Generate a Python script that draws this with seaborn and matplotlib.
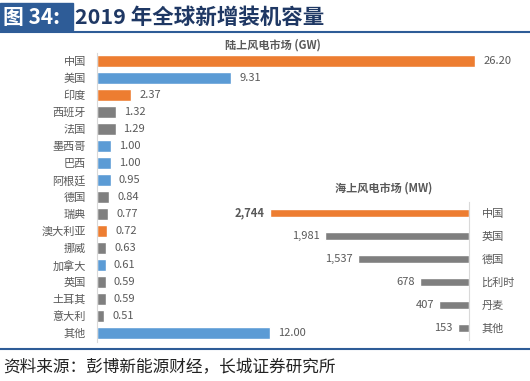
import numpy as np
import pandas as pd
import matplotlib
matplotlib.use('Agg')
import matplotlib.pyplot as plt
import seaborn as sns

# onshore market (GW)
onshore_countries = ['中国', '美国', '印度', '西班牙', '法国', '墨西哥', '巴西', '阿根廷', '德国',
                     '瑞典', '澳大利亚', '挪威', '加拿大', '英国', '土耳其', '意大利', '其他']
onshore_values = [26.20, 9.31, 2.37, 1.32, 1.29, 1.00, 1.00, 0.95, 0.84,
                  0.77, 0.72, 0.63, 0.61, 0.59, 0.59, 0.51, 12.00]
onshore_region = ['亚太', '美洲', '亚太', '欧洲', '欧洲', '美洲', '美洲', '美洲', '欧洲',
                  '欧洲', '亚太', '欧洲', '美洲', '欧洲', '欧洲', '欧洲', '美洲']

# offshore market (MW)
offshore_countries = ['中国', '英国', '德国', '比利时', '丹麦', '其他']
offshore_values = [2744, 1981, 1537, 678, 407, 153]
offshore_region = ['亚太', '欧洲', '欧洲', '欧洲', '欧洲', '欧洲']

palette = {'亚太': '#ED7D31', '美洲': '#5B9BD5', '欧洲': '#7F7F7F'}
text_gray = '#595959'
navy = '#2E5C97'
fs = 8

sns.set_style('white')
plt.rcParams['font.family'] = ['Noto Sans CJK SC', 'DejaVu Sans']

fig = plt.figure(figsize=(5.30, 3.81), dpi=100)

# ---- main chart: onshore
df_on = pd.DataFrame({'country': onshore_countries, 'value': onshore_values, 'region': onshore_region})
ax = fig.add_axes([97 / 530, 1 - 341.5 / 381, 408 / 530, 289 / 381])
sns.barplot(data=df_on, x='value', y='country', hue='region', palette=palette, saturation=1,
            dodge=False, legend=False, width=0.65, orient='h', ax=ax)
ax.set_xlim(0, 28.27)
ax.set_ylim(16.5, -0.5)
ax.set_xlabel('')
ax.set_ylabel('')
ax.set_xticks([])
for s in ['top', 'right', 'bottom']:
    ax.spines[s].set_visible(False)
ax.spines['left'].set_color('#D9D9D9')
ax.tick_params(axis='y', length=0, pad=8, labelsize=fs, labelcolor=text_gray)
for i, v in enumerate(onshore_values):
    ax.text(v + 0.55, i, f'{v:.2f}', va='center', ha='left', fontsize=fs, color=text_gray)
ax.set_title('陆上风电市场 (GW)', fontsize=fs, fontweight='bold', color=text_gray, pad=3, x=0.43)

# ---- inset: offshore
df_off = pd.DataFrame({'country': offshore_countries, 'value': offshore_values, 'region': offshore_region})
ax2 = fig.add_axes([225 / 530, 1 - 339.5 / 381, 244 / 530, 138 / 381])
ax2.patch.set_alpha(0)
sns.barplot(data=df_off, x='value', y='country', hue='region', palette=palette, saturation=1,
            dodge=False, legend=False, width=0.38, orient='h', ax=ax2)
ax2.set_xlim(3365, 0)
ax2.set_ylim(5.5, -0.5)
ax2.set_xlabel('')
ax2.set_ylabel('')
ax2.set_xticks([])
ax2.yaxis.tick_right()
for s in ['top', 'left', 'bottom']:
    ax2.spines[s].set_visible(False)
ax2.spines['right'].set_color('#D9D9D9')
ax2.tick_params(axis='y', length=0, pad=9, labelsize=fs, labelcolor=text_gray)
for i, v in enumerate(offshore_values):
    ax2.text(v + 70, i, f'{v:,}', va='center', ha='right', fontsize=fs, color=text_gray,
             fontweight='bold' if i == 0 else 'normal')
ax2.text(0.65, 1.05, '海上风电市场 (MW)', transform=ax2.transAxes, ha='center', va='bottom',
         fontsize=fs, fontweight='bold', color=text_gray)

# ---- header / footer
fig.patches.append(plt.Rectangle((0, 1 - 30 / 381), 73 / 530, 27 / 381, transform=fig.transFigure,
                                 color=navy, zorder=0))
fig.text(3 / 530, 1 - 17 / 381, '图 34:', color='white', fontsize=15, fontweight='bold', va='center')
fig.text(75 / 530, 1 - 17 / 381, '2019 年全球新增装机容量', color='#1F3864', fontsize=15.5,
         fontweight='bold', va='center')
fig.add_artist(plt.Line2D([0, 1], [1 - 32 / 381, 1 - 32 / 381], color=navy, lw=1.5))
fig.add_artist(plt.Line2D([0, 1], [1 - 349 / 381, 1 - 349 / 381], color=navy, lw=1.5))
fig.text(3 / 530, 1 - 367 / 381, '资料来源：彭博新能源财经，长城证券研究所', fontsize=12,
         color='#222222', va='center', style='italic')

fig.savefig('out.png', dpi=100)
